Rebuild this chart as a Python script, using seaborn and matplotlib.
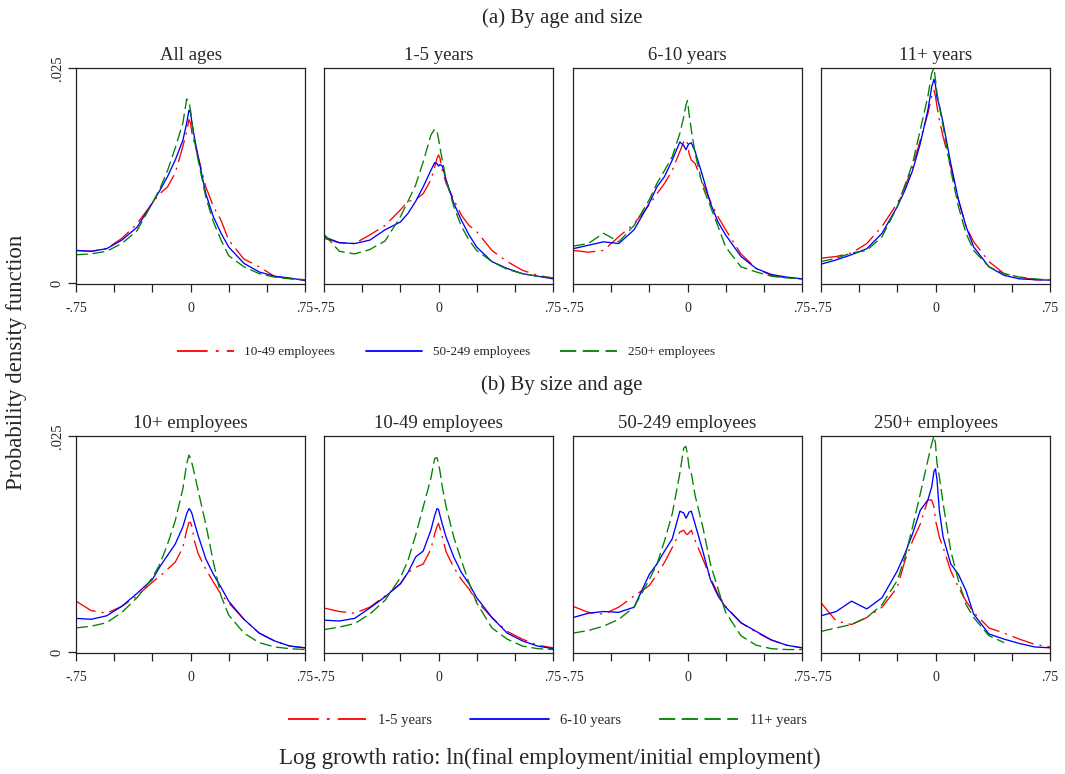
import numpy as np
import pandas as pd
import matplotlib
matplotlib.use("Agg")
import matplotlib.pyplot as plt
import seaborn as sns
from matplotlib.lines import Line2D

# ---------------- data (density values x 1000) ----------------
X = [-0.75, -0.65, -0.55, -0.45, -0.35, -0.25, -0.2, -0.15, -0.1, -0.05, -0.025, -0.01,
     0.0, 0.01, 0.025, 0.05, 0.1, 0.15, 0.2, 0.25, 0.35, 0.45, 0.55, 0.65, 0.75]

size_groups = ["10-49 employees", "50-249 employees", "250+ employees"]
age_groups = ["1-5 years", "6-10 years", "11+ years"]
top_titles = ["All ages", "1-5 years", "6-10 years", "11+ years"]
bottom_titles = ["10+ employees", "10-49 employees", "50-249 employees", "250+ employees"]
xtick_labels = ["-.75", "", "", "0", "", "", ".75"]
ytick_labels = ["0", ".025"]

# (a) By age and size
allages_10_49 = [3.8, 3.7, 4.0, 5.2, 6.9, 9.3, 10.4, 11.2, 12.8, 15.9, 17.6, 19.0, 18.6, 17.4, 16.3, 14.7, 11.2, 8.9, 7.3, 5.0, 2.8, 1.9, 0.8, 0.5, 0.4]
allages_50_249 = [3.8, 3.7, 4.0, 5.0, 6.5, 9.3, 10.8, 12.4, 14.3, 16.6, 18.6, 20.1, 19.8, 18.6, 17.0, 14.7, 10.4, 7.7, 5.8, 4.2, 2.3, 1.3, 0.8, 0.6, 0.3]
allages_250 = [3.3, 3.4, 3.7, 4.6, 6.1, 9.3, 11.0, 13.1, 15.7, 18.6, 21.4, 21.1, 20.1, 18.6, 16.6, 14.3, 10.0, 7.1, 5.0, 3.2, 1.9, 1.1, 0.7, 0.5, 0.4]

age1_5_10_49 = [5.2, 4.7, 4.6, 5.6, 6.7, 8.5, 9.5, 9.7, 10.4, 12.0, 13.5, 14.5, 14.9, 14.5, 13.1, 11.6, 9.7, 7.9, 6.7, 6.0, 3.8, 2.5, 1.5, 0.9, 0.6]
age1_5_50_249 = [5.4, 4.7, 4.6, 5.0, 6.2, 7.1, 8.1, 9.5, 11.2, 13.1, 14.0, 13.9, 13.6, 13.8, 13.6, 12.0, 9.3, 7.3, 5.6, 4.2, 2.5, 1.7, 1.1, 0.8, 0.5]
age1_5_250 = [5.7, 3.7, 3.4, 3.9, 4.9, 7.7, 9.5, 11.4, 14.1, 17.2, 17.9, 17.7, 16.8, 15.7, 14.3, 12.0, 8.9, 6.6, 5.0, 3.8, 2.5, 1.6, 1.1, 0.8, 0.6]

age6_10_10_49 = [3.8, 3.6, 3.8, 5.4, 6.9, 9.1, 10.4, 11.6, 13.1, 15.3, 16.4, 16.7, 16.2, 15.1, 14.3, 13.9, 11.6, 9.5, 7.7, 6.2, 3.4, 1.7, 0.9, 0.6, 0.5]
age6_10_50_249 = [4.0, 4.4, 4.8, 4.6, 6.2, 9.3, 11.2, 12.4, 14.3, 16.4, 16.0, 15.5, 15.9, 16.2, 16.3, 15.3, 12.4, 9.3, 7.1, 5.6, 3.1, 1.7, 1.0, 0.7, 0.5]
age6_10_250 = [4.3, 4.6, 5.8, 4.8, 6.7, 9.7, 11.6, 13.1, 14.7, 17.4, 19.3, 20.7, 21.2, 19.7, 17.8, 15.1, 11.2, 8.9, 6.6, 4.2, 1.9, 1.3, 0.8, 0.6, 0.5]

age11_10_49 = [2.9, 3.1, 3.5, 4.6, 6.6, 9.3, 11.2, 13.5, 16.6, 19.7, 21.7, 22.4, 21.7, 20.5, 19.0, 17.0, 13.5, 9.7, 6.6, 4.8, 2.5, 1.1, 0.7, 0.4, 0.35]
age11_50_249 = [2.2, 2.7, 3.3, 4.0, 5.8, 8.9, 10.8, 13.1, 16.2, 20.1, 22.8, 23.7, 23.0, 21.5, 20.7, 18.6, 13.9, 9.7, 6.6, 4.2, 1.9, 0.9, 0.5, 0.4, 0.35]
age11_250 = [2.5, 2.9, 3.5, 3.8, 5.4, 8.9, 11.4, 13.9, 17.8, 21.7, 24.4, 25.0, 23.6, 22.1, 20.5, 18.2, 13.1, 8.9, 5.8, 3.8, 1.9, 1.1, 0.7, 0.5, 0.35]

# (b) By size and age
emp10p_1_5 = [5.9, 4.8, 4.5, 5.3, 6.5, 8.1, 8.8, 9.6, 10.4, 12.1, 14.1, 15.0, 15.0, 14.5, 12.9, 11.4, 9.6, 8.1, 6.7, 5.7, 3.8, 2.2, 1.3, 0.7, 0.5]
emp10p_6_10 = [3.9, 3.8, 4.2, 5.3, 6.8, 8.4, 9.9, 11.2, 12.5, 14.5, 16.0, 16.6, 16.4, 16.0, 15.0, 13.5, 10.8, 9.0, 7.5, 5.9, 3.8, 2.2, 1.3, 0.7, 0.5]
emp10p_11 = [2.8, 3.0, 3.4, 4.6, 6.3, 8.6, 10.2, 12.5, 15.2, 18.9, 21.8, 22.8, 22.4, 21.8, 20.7, 18.7, 14.8, 10.4, 6.5, 4.3, 2.2, 1.1, 0.6, 0.4, 0.3]

emp10_49_1_5 = [5.1, 4.7, 4.5, 5.2, 6.5, 7.9, 9.2, 9.8, 10.2, 11.9, 13.7, 14.5, 14.9, 14.3, 13.3, 11.6, 9.8, 8.4, 7.3, 5.9, 4.0, 2.4, 1.5, 0.8, 0.5]
emp10_49_6_10 = [3.7, 3.6, 3.9, 5.1, 6.4, 7.9, 9.2, 11.0, 11.7, 14.1, 15.8, 16.6, 16.5, 15.8, 14.8, 13.3, 11.0, 9.2, 7.9, 6.3, 4.0, 2.2, 1.3, 0.7, 0.4]
emp10_49_11 = [2.6, 2.9, 3.3, 4.4, 6.0, 8.6, 10.6, 13.5, 16.8, 20.1, 22.4, 22.5, 21.8, 20.9, 19.1, 16.8, 13.3, 10.6, 8.0, 5.7, 2.8, 1.5, 0.7, 0.4, 0.3]

emp50_249_1_5 = [5.3, 4.6, 4.4, 5.2, 6.5, 7.7, 9.0, 10.4, 12.1, 13.9, 14.1, 13.7, 13.6, 13.8, 14.1, 12.9, 10.8, 8.6, 6.7, 5.3, 3.4, 2.3, 1.4, 0.8, 0.5]
emp50_249_6_10 = [4.0, 4.5, 4.7, 4.6, 5.2, 9.0, 10.2, 11.7, 13.1, 16.3, 16.1, 15.5, 15.8, 16.2, 16.3, 14.8, 11.7, 8.4, 6.5, 5.2, 3.4, 2.4, 1.4, 0.8, 0.5]
emp50_249_11 = [2.2, 2.5, 3.0, 3.8, 5.2, 8.4, 10.2, 12.9, 16.0, 20.7, 23.6, 23.8, 22.8, 21.4, 20.7, 18.1, 14.5, 10.2, 7.3, 4.6, 1.9, 0.8, 0.4, 0.3, 0.3]

emp250_1_5 = [5.7, 3.6, 3.2, 4.0, 5.2, 7.5, 10.6, 12.9, 14.8, 17.6, 17.6, 16.8, 15.2, 14.5, 13.3, 12.1, 9.4, 7.5, 5.9, 4.6, 2.8, 2.2, 1.5, 0.9, 0.6]
emp250_6_10 = [4.2, 4.7, 5.9, 5.0, 6.3, 9.4, 11.4, 13.7, 16.4, 17.6, 19.1, 20.9, 21.2, 19.9, 16.4, 13.3, 10.2, 9.0, 7.1, 4.4, 2.1, 1.5, 1.0, 0.6, 0.5]
emp250_11 = [2.4, 2.8, 3.2, 4.0, 5.5, 8.3, 11.0, 14.5, 18.3, 22.2, 24.1, 25.0, 24.1, 21.8, 20.3, 17.2, 11.7, 8.3, 5.5, 4.0, 1.9, 1.1, np.nan, np.nan, np.nan]

top_series = [
    [allages_10_49, allages_50_249, allages_250],
    [age1_5_10_49, age1_5_50_249, age1_5_250],
    [age6_10_10_49, age6_10_50_249, age6_10_250],
    [age11_10_49, age11_50_249, age11_250],
]
bottom_series = [
    [emp10p_1_5, emp10p_6_10, emp10p_11],
    [emp10_49_1_5, emp10_49_6_10, emp10_49_11],
    [emp50_249_1_5, emp50_249_6_10, emp50_249_11],
    [emp250_1_5, emp250_6_10, emp250_11],
]

# ---------------- style ----------------
sns.set_theme(style="white")
plt.rcParams["font.family"] = ["Liberation Serif", "DejaVu Serif"]
plt.rcParams["lines.scale_dashes"] = True

colors = ["#ff0000", "#0000ff", "#008000"]
dash_patterns = [(17, 4.5, 1.6, 4.5), "", (9, 3.6)]
LW = 0.95

W, H = 1065, 774
fig = plt.figure(figsize=(W / 100, H / 100), dpi=100)

col_left = [76, 324, 573, 821]
ax_w = 229
rows = [(68, 284), (436, 653)]


def make_ax(px_left, px_top, px_bottom):
    return fig.add_axes([px_left / W, 1 - px_bottom / H, ax_w / W, (px_bottom - px_top) / H])


def draw_panel(ax, series, groups, title, first_col):
    frames = []
    for g, vals in zip(groups, series):
        frames.append(pd.DataFrame({"x": X, "density": np.array(vals, dtype=float) / 1000.0, "group": g}))
    df = pd.concat(frames, ignore_index=True)
    sns.lineplot(data=df, x="x", y="density", hue="group", style="group",
                 hue_order=groups, style_order=groups,
                 palette=dict(zip(groups, colors)),
                 dashes=dict(zip(groups, dash_patterns)),
                 linewidth=LW, estimator=None, sort=False, legend=False, ax=ax)
    ax.set_xlim(-0.75, 0.75)
    ax.set_ylim(-0.0001, 0.025)
    ax.set_xlabel("")
    ax.set_ylabel("")
    ax.set_title(title, fontsize=13.5, pad=6)
    ticks = [-0.75, -0.5, -0.25, 0, 0.25, 0.5, 0.75]
    ax.set_xticks(ticks)
    ax.set_xticklabels(xtick_labels, fontsize=10)
    ax.tick_params(axis="x", direction="out", length=6, width=0.9, color="#222222", pad=7, bottom=True)
    if first_col:
        ax.set_yticks([0, 0.025])
        ax.set_yticklabels(ytick_labels, fontsize=10.5, rotation=90, va="center")
        ax.tick_params(axis="y", direction="out", length=6, width=0.9, color="#222222", pad=3, left=True)
    else:
        ax.set_yticks([])
    for sp in ax.spines.values():
        sp.set_visible(True)
        sp.set_color("#222222")
        sp.set_linewidth(0.9)


for i in range(4):
    ax = make_ax(col_left[i], *rows[0])
    draw_panel(ax, top_series[i], size_groups, top_titles[i], i == 0)
    ax = make_ax(col_left[i], *rows[1])
    draw_panel(ax, bottom_series[i], age_groups, bottom_titles[i], i == 0)

fig.text(562 / W, 1 - 18 / H, "(a) By age and size", ha="center", va="center", fontsize=15)
fig.text(562 / W, 1 - 385 / H, "(b) By size and age", ha="center", va="center", fontsize=15)
fig.text(17 / W, 1 - 362 / H, "Probability density function", rotation=90,
         ha="center", va="center", fontsize=16.5)
fig.text(550 / W, 1 - 758 / H, "Log growth ratio: ln(final employment/initial employment)",
         ha="center", va="center", fontsize=16.5)


def handles_for(groups):
    hs = []
    for c, d in zip(colors, dash_patterns):
        if d == "":
            hs.append(Line2D([], [], color=c, lw=1.3, linestyle="-"))
        else:
            hs.append(Line2D([], [], color=c, lw=1.3, linestyle=(0, d)))
    return hs


fig.legend(handles_for(size_groups), size_groups, loc="center", bbox_to_anchor=(446 / W, 1 - 352 / H),
           ncol=3, frameon=False, fontsize=9.5, handlelength=4.3, handletextpad=0.8, columnspacing=2.3)
fig.legend(handles_for(age_groups), age_groups, loc="center", bbox_to_anchor=(547 / W, 1 - 720 / H),
           ncol=3, frameon=False, fontsize=10.5, handlelength=5.4, handletextpad=0.8, columnspacing=2.6)

fig.savefig("out.png", dpi=100)
